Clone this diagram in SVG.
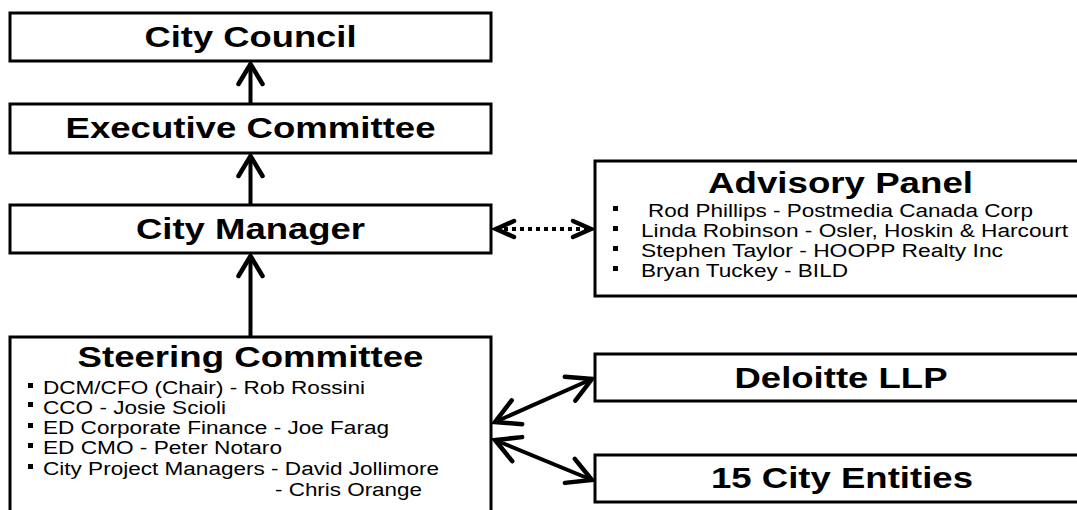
<svg xmlns="http://www.w3.org/2000/svg" width="1077" height="510" viewBox="0 0 1077 510">
<style>
.box{fill:#fff;stroke:#000;stroke-width:3}
.title{font-family:"Liberation Sans",Arial,sans-serif;font-weight:bold;font-size:29px;fill:#000;text-anchor:middle}
.item{font-family:"Liberation Sans",Arial,sans-serif;font-size:18px;fill:#000}
.bul{fill:#000}
.conn{fill:none;stroke:#000;stroke-width:4}
.dot{fill:none;stroke:#000;stroke-width:4;stroke-dasharray:4 4}
</style>
<defs>
<marker id="ah" markerUnits="userSpaceOnUse" markerWidth="60" markerHeight="60" refX="0" refY="0" viewBox="-30 -30 60 60" orient="auto-start-reverse" overflow="visible">
<path d="M-20,-12 L0,0 L-20,12" fill="none" stroke="#000" stroke-width="4.5" stroke-linecap="round" stroke-linejoin="miter"/>
</marker>
<marker id="ahb" markerUnits="userSpaceOnUse" markerWidth="60" markerHeight="60" refX="0" refY="0" viewBox="-30 -30 60 60" orient="auto-start-reverse" overflow="visible">
<path d="M-24,-13 L0,0 L-24,13" fill="none" stroke="#000" stroke-width="4.5" stroke-linecap="round" stroke-linejoin="miter"/>
</marker>
<marker id="ahd" markerUnits="userSpaceOnUse" markerWidth="60" markerHeight="60" refX="0" refY="0" viewBox="-30 -30 60 60" orient="auto-start-reverse" overflow="visible">
<path d="M-18,-8 L0,0 L-18,8" fill="none" stroke="#000" stroke-width="4.5" stroke-linecap="round" stroke-linejoin="miter"/>
</marker>
</defs>
<rect width="1077" height="510" fill="#fff"/>

<g id="connectors">
<line class="conn" x1="250.5" y1="104" x2="250.5" y2="64" marker-end="url(#ah)"/>
<line class="conn" x1="250.5" y1="205" x2="250.5" y2="156" marker-end="url(#ah)"/>
<line class="conn" x1="250.5" y1="337" x2="250.5" y2="256" marker-end="url(#ah)"/>
<line class="dot" x1="496" y1="229" x2="591" y2="229" marker-start="url(#ahd)" marker-end="url(#ahd)"/>
<line class="conn" x1="495" y1="422" x2="592" y2="379" marker-start="url(#ahb)" marker-end="url(#ahb)"/>
<line class="conn" x1="495" y1="440" x2="592" y2="480" marker-start="url(#ahb)" marker-end="url(#ahb)"/>
</g>

<g id="city-council">
<rect class="box" x="10" y="13" width="481" height="48"/>
<text class="title" x="250.5" y="47" textLength="212" lengthAdjust="spacingAndGlyphs">City Council</text>
</g>

<g id="executive-committee">
<rect class="box" x="10" y="104" width="481" height="49"/>
<text class="title" x="250.5" y="138" textLength="370" lengthAdjust="spacingAndGlyphs">Executive Committee</text>
</g>

<g id="city-manager">
<rect class="box" x="10" y="205" width="481" height="48"/>
<text class="title" x="250.5" y="239" textLength="229" lengthAdjust="spacingAndGlyphs">City Manager</text>
</g>

<g id="steering-committee">
<rect class="box" x="10" y="337" width="481" height="190"/>
<text class="title" x="250.5" y="367" textLength="346" lengthAdjust="spacingAndGlyphs">Steering Committee</text>
<rect class="bul" x="28" y="383" width="5" height="5"/>
<rect class="bul" x="28" y="402" width="5" height="5"/>
<rect class="bul" x="28" y="423" width="5" height="5"/>
<rect class="bul" x="28" y="443" width="5" height="5"/>
<rect class="bul" x="28" y="464" width="5" height="5"/>
<text class="item" x="43" y="394" textLength="322" lengthAdjust="spacingAndGlyphs">DCM/CFO (Chair) - Rob Rossini</text>
<text class="item" x="43" y="414" textLength="183" lengthAdjust="spacingAndGlyphs">CCO - Josie Scioli</text>
<text class="item" x="43" y="434" textLength="346" lengthAdjust="spacingAndGlyphs">ED Corporate Finance - Joe Farag</text>
<text class="item" x="43" y="454" textLength="239" lengthAdjust="spacingAndGlyphs">ED CMO - Peter Notaro</text>
<text class="item" x="43" y="475" textLength="396" lengthAdjust="spacingAndGlyphs">City Project Managers - David Jollimore</text>
<text class="item" x="275" y="496" textLength="147" lengthAdjust="spacingAndGlyphs">- Chris Orange</text>
</g>

<g id="advisory-panel">
<rect class="box" x="595" y="161" width="495" height="135"/>
<text class="title" x="840.5" y="193" textLength="265" lengthAdjust="spacingAndGlyphs">Advisory Panel</text>
<rect class="bul" x="613" y="206" width="5" height="5"/>
<rect class="bul" x="613" y="226" width="5" height="5"/>
<rect class="bul" x="613" y="246" width="5" height="5"/>
<rect class="bul" x="613" y="266" width="5" height="5"/>
<text class="item" x="648" y="217" textLength="385" lengthAdjust="spacingAndGlyphs">Rod Phillips - Postmedia Canada Corp</text>
<text class="item" x="641" y="237" textLength="427" lengthAdjust="spacingAndGlyphs">Linda Robinson - Osler, Hoskin &amp; Harcourt</text>
<text class="item" x="641" y="257" textLength="362" lengthAdjust="spacingAndGlyphs">Stephen Taylor - HOOPP Realty Inc</text>
<text class="item" x="641" y="277" textLength="207" lengthAdjust="spacingAndGlyphs">Bryan Tuckey - BILD</text>
</g>

<g id="deloitte">
<rect class="box" x="595" y="354" width="495" height="47"/>
<text class="title" x="841" y="388" textLength="213" lengthAdjust="spacingAndGlyphs">Deloitte LLP</text>
</g>

<g id="city-entities">
<rect class="box" x="595" y="455" width="495" height="47"/>
<text class="title" x="842" y="488" textLength="262" lengthAdjust="spacingAndGlyphs">15 City Entities</text>
</g>
</svg>
